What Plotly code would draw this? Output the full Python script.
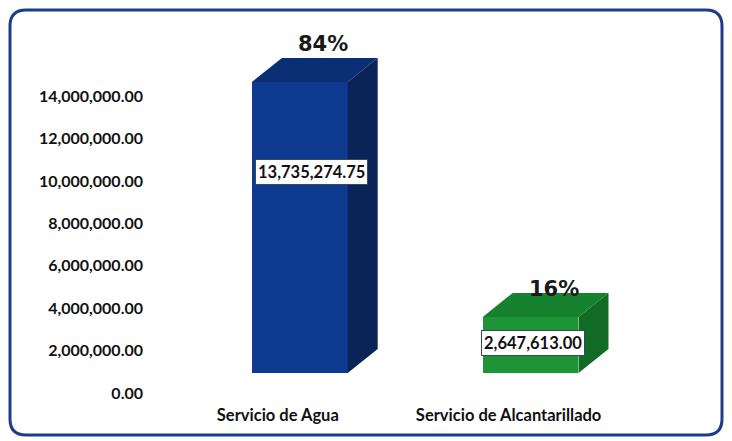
import plotly.graph_objects as go

categories = ["Servicio de Agua", "Servicio de Alcantarillado"]
values = [13735274.75, 2647613.00]
percent_labels = ["84%", "16%"]
y_ticks = [0, 2000000, 4000000, 6000000, 8000000, 10000000, 12000000, 14000000]

front_colors = ["#0e3b8f", "#1e9437"]
top_colors = ["#0b2f74", "#17822e"]
side_colors = ["#0a2458", "#116b25"]

W, H = 732, 441
L, R, T, B = 150, 86, 34, 68
X_RANGE = [-0.649, 1.5]
Y_RANGE = [0, 16000000]

bar_w = 0.415
dx = 0.13          # depth offset, category units
dy = 1130000       # depth offset, value units

fig = go.Figure()

fig.add_trace(go.Bar(
    x=list(range(len(categories))),
    y=values,
    width=bar_w,
    marker_color=front_colors,
    marker_line_width=0,
    hoverinfo="skip",
    showlegend=False,
))

# fake 3D: top and side faces built from each value
for i, v in enumerate(values):
    x0, x1 = i - bar_w / 2, i + bar_w / 2
    fig.add_trace(go.Scatter(
        x=[x0, x1, x1 + dx, x0 + dx, x0],
        y=[v, v, v + dy, v + dy, v],
        fill="toself", fillcolor=top_colors[i],
        mode="lines", line=dict(width=0, color=top_colors[i]),
        hoverinfo="skip", showlegend=False,
    ))
    fig.add_trace(go.Scatter(
        x=[x1, x1 + dx, x1 + dx, x1, x1],
        y=[0, dy, v + dy, v, 0],
        fill="toself", fillcolor=side_colors[i],
        mode="lines", line=dict(width=0, color=side_colors[i]),
        hoverinfo="skip", showlegend=False,
    ))

label_pos = [0.69, 0.53]
label_dx = [0.05, 0.01]
pct_shift = [0, -10]
for i, v in enumerate(values):
    fig.add_annotation(
        x=i + label_dx[i], y=v * label_pos[i],
        text=f"<b>{v:,.2f}</b>",
        showarrow=False,
        font=dict(family="Lato", size=16.5, color="#111111"),
        bgcolor="white", bordercolor="#2f4b5c", borderwidth=1, borderpad=2,
    )
    fig.add_annotation(
        x=i + dx - 0.03, y=v + dy,
        text=f"<b>{percent_labels[i]}</b>",
        showarrow=False, yanchor="bottom", yshift=pct_shift[i],
        font=dict(family="DejaVu Sans", size=21, color="#1a1a1a"),
    )


def px2paper(px, py):
    return (px - L) / (W - L - R), (H - B - py) / (H - T - B)


# rounded chart border
x_l, y_t = px2paper(10, 10)
x_r, y_b = px2paper(722, 435)
rx, ry = 16 / (W - L - R), 16 / (H - T - B)
path = (
    f"M {x_l + rx},{y_t} L {x_r - rx},{y_t} Q {x_r},{y_t} {x_r},{y_t - ry} "
    f"L {x_r},{y_b + ry} Q {x_r},{y_b} {x_r - rx},{y_b} "
    f"L {x_l + rx},{y_b} Q {x_l},{y_b} {x_l},{y_b + ry} "
    f"L {x_l},{y_t - ry} Q {x_l},{y_t} {x_l + rx},{y_t} Z"
)
fig.add_shape(type="path", path=path, xref="paper", yref="paper",
              line=dict(color="#1c3d8a", width=3), layer="above")

fig.update_layout(
    width=W, height=H,
    margin=dict(l=L, r=R, t=T, b=B),
    paper_bgcolor="white",
    plot_bgcolor="white",
    bargap=0,
    xaxis=dict(
        range=X_RANGE,
        tickmode="array",
        tickvals=list(range(len(categories))),
        ticktext=[f"<b>{c}</b>" for c in categories],
        tickfont=dict(family="Lato", size=16.5, color="#111111"),
        ticklabelshift=-22,
        ticklabelstandoff=30,
        showgrid=False, zeroline=False, showline=False, ticks="",
    ),
    yaxis=dict(
        range=Y_RANGE,
        tickmode="array",
        tickvals=y_ticks,
        ticktext=[f"<b>{t:,.2f}</b>" for t in y_ticks],
        tickfont=dict(family="Lato", size=16, color="#111111"),
        ticklabelshift=20,
        ticklabelstandoff=6,
        showgrid=False, zeroline=False, showline=False, ticks="",
    ),
)

fig.write_html(
    "out.html",
    config={"displayModeBar": False},
    post_script="document.body.style.margin='0';",
)
